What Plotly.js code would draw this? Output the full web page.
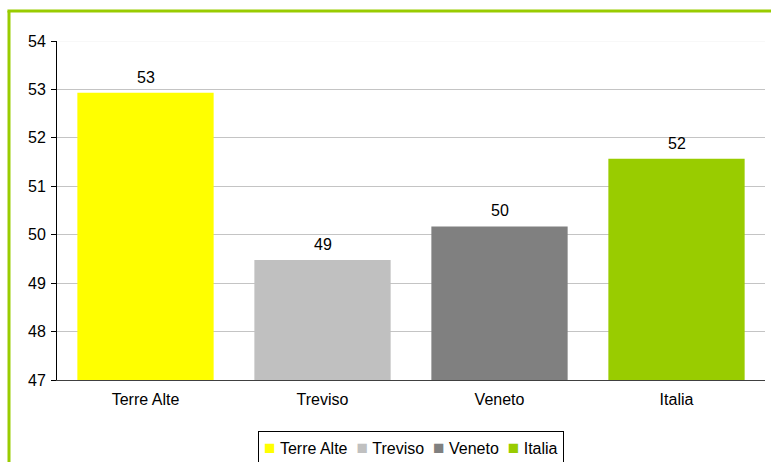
<!DOCTYPE html>
<html><head><meta charset="utf-8">
<script src="https://cdn.plot.ly/plotly-3.0.1.min.js"></script>
<style>html,body{margin:0;padding:0;background:#fff}#chart{width:771px;height:462px}</style>
</head><body><div id="chart"></div>
<script>
const categories = ["Terre Alte", "Treviso", "Veneto", "Italia"];
const values = [52.93, 49.48, 50.17, 51.57];
const labels = ["53", "49", "50", "52"];
const colors = ["#ffff00", "#c0c0c0", "#808080", "#99cc00"];
const yTicks = [47, 48, 49, 50, 51, 52, 53, 54];

const FONT = "Liberation Sans, Arial, sans-serif";

const traces = categories.map((c, i) => ({
  type: "bar",
  name: c,
  x: [c],
  y: [values[i]],
  marker: {color: colors[i], line: {width: 0}},
  hoverinfo: "skip",
  width: 0.77
}));

const annotations = categories.map((c, i) => ({
  x: c, y: values[i], xref: "x", yref: "y",
  text: labels[i], showarrow: false,
  yanchor: "bottom", yshift: 5,
  font: {family: FONT, size: 16, color: "#000"}
}));

// legend box built from the category names and colours
const legendText = categories.map((c, i) =>
  "<span style='color:" + colors[i] + ";font-size:19px'>■</span>\u00a0" + c).join("\u00a0\u00a0");
annotations.push({
  xref: "paper", yref: "paper", x: 0.5, xanchor: "center",
  y: -0.149, yanchor: "top", showarrow: false,
  text: legendText,
  font: {family: FONT, size: 16, color: "#000"},
  bordercolor: "#000", borderwidth: 1, borderpad: 5, bgcolor: "#fff"
});

const layout = {
  width: 771, height: 462,
  margin: {l: 57, r: 6, t: 41, b: 82, autoexpand: false},
  paper_bgcolor: "#fff", plot_bgcolor: "#fff",
  font: {family: FONT, size: 16, color: "#000"},
  barmode: "overlay",
  showlegend: false,
  xaxis: {
    type: "category", categoryorder: "array", categoryarray: categories,
    showline: true, linecolor: "#404040", linewidth: 1,
    ticks: "", showgrid: false, tickfont: {size: 16}, fixedrange: true,
    ticklabelstandoff: 5
  },
  yaxis: {
    range: [47, 54], tickvals: yTicks, ticktext: yTicks.map(String),
    showline: true, linecolor: "#000", linewidth: 1,
    ticks: "outside", ticklen: 5, tickcolor: "#000",
    showgrid: true, gridcolor: "#c4c4c4", gridwidth: 1,
    zeroline: false, tickfont: {size: 16}, fixedrange: true,
    ticklabelstandoff: 2
  },
  annotations: annotations,
  shapes: [
    {type: "line", xref: "paper", yref: "y", x0: 0.002, x1: 1, y0: 54, y1: 54, line: {color: "#f2f2f2", width: 1}},
    {type: "line", xref: "paper", yref: "paper", x0: -0.0678, x1: -0.0678, y0: 1.0885, y1: -0.3, line: {color: "#99cc00", width: 3}},
    {type: "line", xref: "paper", yref: "paper", x0: -0.07, x1: 1.02, y0: 1.0885, y1: 1.0885, line: {color: "#99cc00", width: 3}}
  ]
};

Plotly.newPlot("chart", traces, layout, {staticPlot: true, displayModeBar: false});
</script>
</body></html>
